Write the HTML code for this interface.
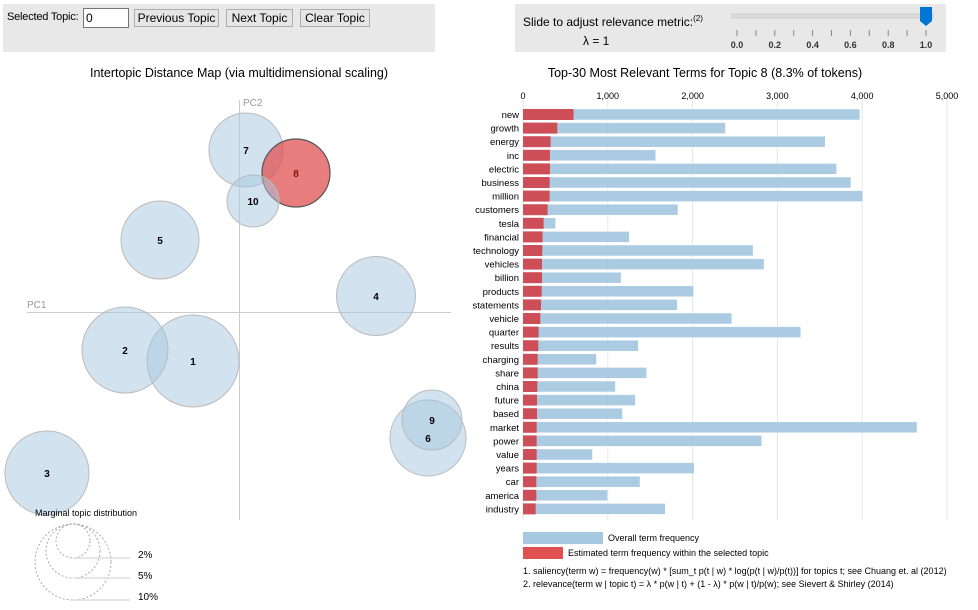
<!DOCTYPE html>
<html><head><meta charset="utf-8">
<style>
body{margin:0;width:978px;height:610px;overflow:hidden;background:#fff;font-family:"Liberation Sans",sans-serif;}
.box{position:absolute;background:#e8e8e8;}
.btn{position:absolute;top:9px;height:18px;background:#e6e6e6;border:1px solid #adadad;font-size:12px;line-height:16px;text-align:center;box-sizing:border-box;}
svg text{font-family:"Liberation Sans",sans-serif;}
</style></head><body>
<div class="box" style="left:3px;top:4px;width:432px;height:48px"></div>
<div style="position:absolute;left:7px;top:11px;font-size:11px;letter-spacing:-0.2px">Selected Topic:</div>
<div style="position:absolute;left:83px;top:8px;width:46px;height:20px;background:#fff;border:1px solid #767676;box-sizing:border-box;font-size:12px;padding-left:2px;line-height:18px">0</div>
<div class="btn" style="left:134px;width:85px">Previous Topic</div>
<div class="btn" style="left:226px;width:67px">Next Topic</div>
<div class="btn" style="left:300px;width:70px">Clear Topic</div>

<div class="box" style="left:515px;top:4px;width:431px;height:48px"></div>
<div style="position:absolute;left:523px;top:14px;font-size:12px">Slide to adjust relevance metric:<sup style="font-size:8px">(2)</sup></div>
<div style="position:absolute;left:583px;top:34px;font-size:12px">λ = 1</div>

<svg width="978" height="610" style="position:absolute;left:0;top:0" id="svg">
<g id="slider">
<rect x="732" y="14" width="201" height="4" fill="#ddd" stroke="#ccc"/>
<path d="M920 7 h12 v14 l-6 5 l-6 -5z" fill="#0075d4"/>
</g>
<g id="sliderTicks"></g>
<text x="239" y="77" text-anchor="middle" font-size="12.5">Intertopic Distance Map (via multidimensional scaling)</text>
<text x="705" y="77" text-anchor="middle" font-size="12.5">Top-30 Most Relevant Terms for Topic 8 (8.3% of tokens)</text>
<line x1="239.5" y1="100" x2="239.5" y2="520" stroke="#ccc"/>
<line x1="27" y1="312.5" x2="451" y2="312.5" stroke="#ccc"/>
<text x="243" y="106" font-size="10" fill="#999">PC2</text>
<text x="27" y="308" font-size="10" fill="#999">PC1</text>
<g id="circles"></g>
<g id="marginal">
<text x="35" y="516" font-size="9">Marginal topic distribution</text>
<g fill="none" stroke="#aaa" stroke-dasharray="2 2">
<circle cx="73" cy="541" r="17"/><circle cx="73" cy="551" r="27"/><circle cx="73" cy="562" r="38"/>
</g>
<g stroke="#ddd" stroke-width="1.5"><line x1="73" y1="558" x2="130" y2="558"/><line x1="73" y1="578" x2="130" y2="578"/><line x1="73" y1="600" x2="130" y2="600"/></g>
<g font-size="10"><text x="138" y="558">2%</text><text x="138" y="579">5%</text><text x="138" y="600">10%</text></g>
</g>
<g id="grid"></g>
<g id="bars"></g>
<g>
<rect x="523" y="532" width="80" height="12" fill="#a6c8e0"/>
<text x="608" y="541" font-size="9">Overall term frequency</text>
<rect x="523" y="547" width="40" height="12" fill="#e05252"/>
<text x="568" y="556" font-size="9">Estimated term frequency within the selected topic</text>
<text x="523" y="574" font-size="9">1. saliency(term w) = frequency(w) * [sum_t p(t | w) * log(p(t | w)/p(t))] for topics t; see Chuang et. al (2012)</text>
<text x="523" y="587" font-size="9">2. relevance(term w | topic t) = λ * p(w | t) + (1 - λ) * p(w | t)/p(w); see Sievert &amp; Shirley (2014)</text>
</g>
</svg>
<script>
const topicIds=[1,2,3,4,5,6,7,8,9,10];
const topicX=[193,125,47,376,160,428,246,296,432,253];
const topicY=[361,350,473,296,240,438,150,173,420,201];
const topicR=[46,43,42,39.5,39,38,37,34,30,26];
const terms=["new","growth","energy","inc","electric","business","million","customers","tesla","financial","technology","vehicles","billion","products","statements","vehicle","quarter","results","charging","share","china","future","based","market","power","value","years","car","america","industry"];
const overall=[3973,2388,3565,1565,3698,3867,4008,1827,384,1255,2714,2843,1157,2012,1820,2463,3275,1361,867,1459,1090,1325,1173,4647,2816,820,2020,1380,1000,1678];
const topicFreq=[596,404,325,318,318,314,314,290,243,231,227,224,224,220,212,204,184,180,173,173,169,165,165,161,161,161,161,157,157,149];
const xTicks=[0,1000,2000,3000,4000,5000];
const xTickLabels=["0","1,000","2,000","3,000","4,000","5,000"];
const sliderTicks=[0,0.1,0.2,0.3,0.4,0.5,0.6,0.7,0.8,0.9,1.0];
const NS="http://www.w3.org/2000/svg";
function mk(t,a,p){const e=document.createElementNS(NS,t);for(const k in a)e.setAttribute(k,a[k]);p.appendChild(e);return e;}
const xs=v=>523+v*0.0848;
const ys=i=>109+i*13.6;
const sx=v=>737+v*189;
const st=document.getElementById('sliderTicks');
sliderTicks.forEach((v,i)=>{
 const l=mk('line',{x1:sx(v),x2:sx(v),y1:30,y2:36,stroke:'#888'},st);
 
 
 if(i%2==0){const t=mk('text',{x:sx(v),y:48,'font-size':9,'font-weight':'bold','text-anchor':'middle',fill:'#333'},st);t.textContent=v.toFixed(1);
 
 }
});
const cg=document.getElementById('circles');
topicIds.forEach((id,i)=>{
 const sel=id===8;
 const c=mk('circle',{cx:topicX[i],cy:topicY[i],r:topicR[i],fill:sel?'#e05252':'#a6c8e0','fill-opacity':sel?0.75:0.5,stroke:sel?'#555':'#bbb','stroke-width':sel?1.2:1},cg);
 
 
});
topicIds.forEach((id,i)=>{
 const t=mk('text',{x:topicX[i],y:topicY[i]+4,'text-anchor':'middle','font-size':10,'font-weight':'bold',fill:id===8?'#8a1010':'#000'},cg);
 t.textContent=id;
 
 
});
const gg=document.getElementById('grid');
xTicks.forEach((v,i)=>{
 const l=mk('line',{x1:xs(v),x2:xs(v),y1:100,y2:520,stroke:'#e6e6e6'},gg);
 
 
 const t=mk('text',{x:xs(v),y:99,'text-anchor':'middle','font-size':9,fill:'#000'},gg);
 t.textContent=xTickLabels[i];
 
 
});
const bg=document.getElementById('bars');
terms.forEach((term,i)=>{
 const y=ys(i);
 const b=mk('rect',{x:523,y:y,width:xs(overall[i])-523,height:11,fill:'#a6c8e0','fill-opacity':0.95,stroke:'#fff','stroke-width':0.5},bg);
 
 
 const r=mk('rect',{x:523,y:y,width:xs(topicFreq[i])-523,height:11,fill:'#d0474f','fill-opacity':0.95},bg);
 
 
 const t=mk('text',{x:519,y:y+9,'text-anchor':'end','font-size':9.5,fill:'#000'},bg);
 t.textContent=term;
 
 
});
</script>
</body></html>
